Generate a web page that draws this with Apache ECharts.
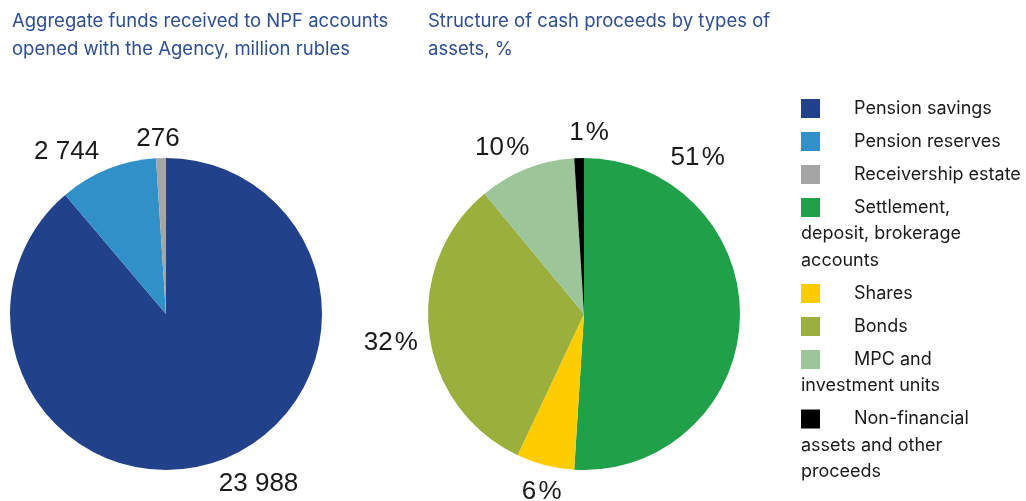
<!DOCTYPE html>
<html>
<head>
<meta charset="utf-8">
<script src="https://cdn.jsdelivr.net/npm/echarts@6/dist/echarts.min.js"></script>
<style>
  html, body { margin: 0; padding: 0; background: #ffffff; }
  #chart { width: 1026px; height: 501px; }
</style>
</head>
<body>
<div id="chart"></div>
<script>
// Aggregate funds received, million rubles
const fundTypes = ['Pension savings', 'Pension reserves', 'Receivership estate'];
const fundValues = [23988, 2744, 276];

// Structure of cash proceeds, %
const assetTypes = [
  'Settlement, deposit, brokerage accounts',
  'Shares',
  'Bonds',
  'MPC and investment units',
  'Non-financial assets and other proceeds'
];
const assetShares = [51, 6, 32, 10, 1];

const fundColors = ['#21418A', '#3290C9', '#A5A5A5'];
const assetColors = ['#21A04A', '#FFCC00', '#9AAF3C', '#9CC59A', '#000000'];

const TITLE_FONT = 'Inter, Roboto, "Noto Sans", sans-serif';
const LABEL_FONT = '"Liberation Sans", Arial, sans-serif';
const TITLE_COLOR = '#2E4E96';
const TEXT_COLOR = '#1A1A1A';
const PIE_R = 156;

function spaced(v) {
  return String(v).replace(/\B(?=(\d{3})+(?!\d))/g, ' ');
}

// Label placement: rotation (degrees) from the slice middle and gap beyond the rim
const pies = [
  { center: [166, 314], names: fundTypes, values: fundValues, colors: fundColors,
    fmt: v => spaced(v), shift: [-8.5, -9.6, -0.8], gap: [9, 8, 8] },
  { center: [584, 314], names: assetTypes, values: assetShares, colors: assetColors,
    fmt: v => v + '\u200A%', shift: [-55.8, -1, -1.3, -4.6, 3.4], gap: [13, 12, 11, 8, 14] }
];

function makeSeries(p) {
  const total = p.values.reduce((a, b) => a + b, 0);
  return {
    type: 'pie',
    center: p.center,
    radius: PIE_R,
    startAngle: 90,
    clockwise: true,
    avoidLabelOverlap: false,
    animation: false,
    emphasis: { disabled: true },
    itemStyle: { borderWidth: 0 },
    label: {
      show: true,
      position: 'outside',
      formatter: prm => p.fmt(prm.value),
      fontFamily: LABEL_FONT,
      fontSize: 26,
      color: TEXT_COLOR
    },
    labelLine: { show: false },
    labelLayout: function (prm) {
      const i = prm.dataIndex;
      let before = 0;
      for (let k = 0; k < i; k++) before += p.values[k];
      const mid = (before + p.values[i] / 2) / total * 360 + p.shift[i];
      const rad = mid * Math.PI / 180;
      const dx = Math.sin(rad), dy = -Math.cos(rad);
      const w = prm.labelRect.width, h = prm.labelRect.height * 0.8;
      const d = PIE_R + p.gap[i] + Math.abs(dx) * w / 2 + Math.abs(dy) * h / 2;
      return {
        x: p.center[0] + dx * d,
        y: p.center[1] + dy * d,
        align: 'center',
        verticalAlign: 'middle'
      };
    },
    data: p.values.map((v, i) => ({
      name: p.names[i],
      value: v,
      itemStyle: { color: p.colors[i] }
    }))
  };
}

// Legend lines as they wrap in the side panel
const LEGEND_WRAP = {
  'Settlement, deposit, brokerage accounts': ['Settlement,', 'deposit, brokerage', 'accounts'],
  'MPC and investment units': ['MPC and', 'investment units'],
  'Non-financial assets and other proceeds': ['Non-financial', 'assets and other', 'proceeds']
};

function legendGraphic() {
  const names = fundTypes.concat(assetTypes);
  const colors = fundColors.concat(assetColors);
  const els = [];
  let top = 99;
  const left = 801, box = 19, textLeft = 854, step = 33, lineStep = 26.5;
  names.forEach((n, i) => {
    const lines = LEGEND_WRAP[n] || [n];
    els.push({
      type: 'rect', left: left, top: top,
      shape: { width: box, height: box },
      style: { fill: colors[i] }, silent: true
    });
    lines.forEach((ln, k) => {
      els.push({
        type: 'text',
        x: k === 0 ? textLeft : left,
        y: top + box / 2 + k * lineStep,
        style: {
          text: ln, fill: TEXT_COLOR,
          font: '18px ' + TITLE_FONT,
          textVerticalAlign: 'middle', verticalAlign: 'middle'
        },
        silent: true
      });
    });
    top += step + lineStep * (lines.length - 1);
  });
  return els;
}

const titleStyle = {
  fontFamily: TITLE_FONT, fontSize: 18.5, fontWeight: 'normal',
  color: TITLE_COLOR, lineHeight: 28
};

const chart = echarts.init(document.getElementById('chart'), null, { renderer: 'canvas' });
chart.setOption({
  backgroundColor: '#ffffff',
  animation: false,
  title: [
    { text: 'Aggregate funds received to NPF accounts\nopened with the Agency, million rubles',
      left: 7, top: 2, textStyle: titleStyle },
    { text: 'Structure of cash proceeds by types of\nassets, %',
      left: 423, top: 2, textStyle: titleStyle }
  ],
  series: pies.map(makeSeries),
  graphic: legendGraphic()
});
</script>
</body>
</html>
